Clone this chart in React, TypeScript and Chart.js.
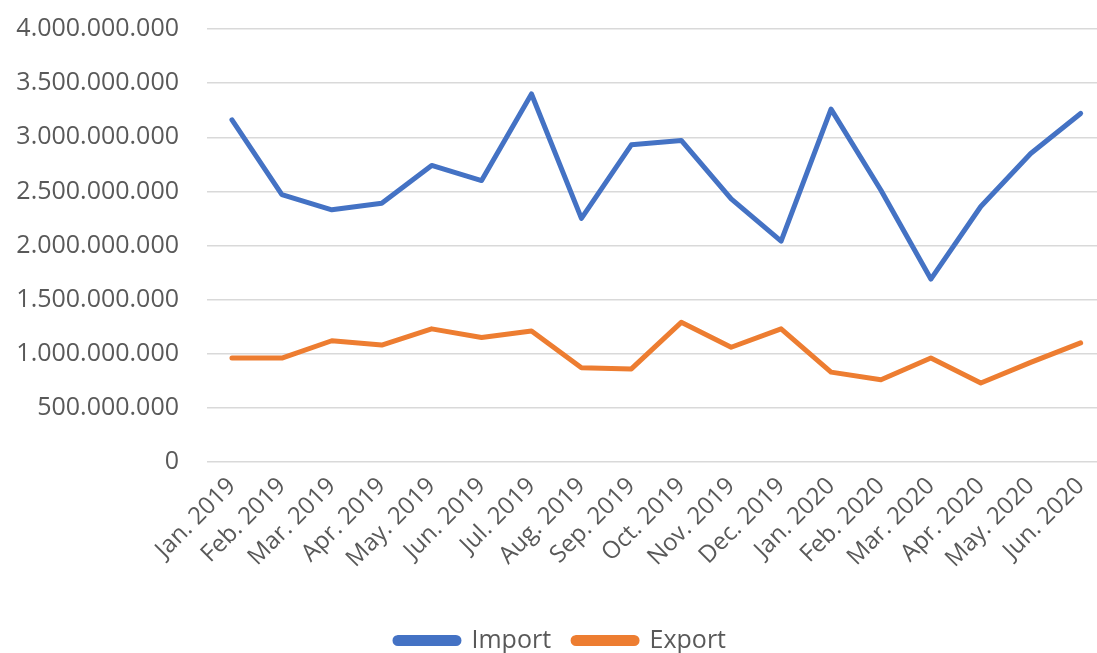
import React, { useEffect, useRef } from "react";
import { Chart, registerables } from "chart.js";

Chart.register(...registerables);

const categories = [
  "Jan. 2019", "Feb. 2019", "Mar. 2019", "Apr. 2019", "May. 2019", "Jun. 2019",
  "Jul. 2019", "Aug. 2019", "Sep. 2019", "Oct. 2019", "Nov. 2019", "Dec. 2019",
  "Jan. 2020", "Feb. 2020", "Mar. 2020", "Apr. 2020", "May. 2020", "Jun. 2020",
];

const importValues = [
  3160000000, 2470000000, 2330000000, 2390000000, 2740000000, 2600000000,
  3400000000, 2250000000, 2930000000, 2970000000, 2430000000, 2040000000,
  3260000000, 2510000000, 1690000000, 2360000000, 2850000000, 3220000000,
];

const exportValues = [
  960000000, 960000000, 1120000000, 1080000000, 1230000000, 1150000000,
  1210000000, 870000000, 860000000, 1290000000, 1060000000, 1230000000,
  830000000, 760000000, 960000000, 730000000, 920000000, 1100000000,
];

const yTicks = [0, 500000000, 1000000000, 1500000000, 2000000000, 2500000000, 3000000000, 3500000000, 4000000000];

const formatDots = (v: number) => String(Math.round(v)).replace(/\B(?=(\d{3})+(?!\d))/g, ".");

export default function App() {
  const ref = useRef<HTMLCanvasElement | null>(null);

  useEffect(() => {
    if (!ref.current) return;
    const font = "'Open Sans', 'DejaVu Sans', sans-serif";
    const chart = new Chart(ref.current, {
      type: "line",
      data: {
        labels: categories,
        datasets: [
          {
            label: "Import",
            data: importValues,
            borderColor: "#4472C4",
            backgroundColor: "#4472C4",
            borderWidth: 5,
            borderJoinStyle: "round",
            borderCapStyle: "round",
            pointRadius: 0,
            tension: 0,
          },
          {
            label: "Export",
            data: exportValues,
            borderColor: "#ED7D31",
            backgroundColor: "#ED7D31",
            borderWidth: 5,
            borderJoinStyle: "round",
            borderCapStyle: "round",
            pointRadius: 0,
            tension: 0,
          },
        ],
      },
      options: {
        animation: false,
        responsive: false,
        maintainAspectRatio: false,
        layout: { padding: { top: 12, right: 0, left: 10, bottom: 4 } },
        plugins: {
          legend: {
            position: "bottom",
            labels: {
              boxWidth: 64,
              boxHeight: 6,
              useBorderRadius: true,
              borderRadius: 3,
              color: "#595959",
              font: { family: font, size: 25 },
              padding: 22,
            },
          },
          tooltip: { enabled: false },
        },
        scales: {
          x: {
            offset: true,
            grid: { display: false, drawTicks: false },
            border: { display: false },
            afterFit: (axis: any) => {
              axis.height = 144;
            },
            ticks: {
              color: "#595959",
              font: { family: font, size: 24 },
              maxRotation: 45,
              minRotation: 45,
              padding: 10,
              autoSkip: false,
            },
          },
          y: {
            min: 0,
            max: 4000000000,
            afterBuildTicks: (axis: any) => {
              axis.ticks = yTicks.map((v) => ({ value: v }));
            },
            afterFit: (axis: any) => {
              axis.width = 197;
            },
            grid: { color: "#d9d9d9", lineWidth: 1.5, drawTicks: false },
            border: { display: false },
            ticks: {
              color: "#595959",
              font: { family: font, size: 25 },
              padding: 28,
              callback: (v: any) => formatDots(Number(v)),
            },
          },
        },
      },
    });
    return () => chart.destroy();
  }, []);

  return (
    <div style={{ position: "fixed", left: 0, top: 0, width: 1097, height: 653, overflow: "hidden", background: "#fff" }}>
      <canvas
        ref={ref}
        width={1111}
        height={681}
        style={{ width: 1111, height: 681, display: "block", marginTop: -14 }}
      />
    </div>
  );
}
